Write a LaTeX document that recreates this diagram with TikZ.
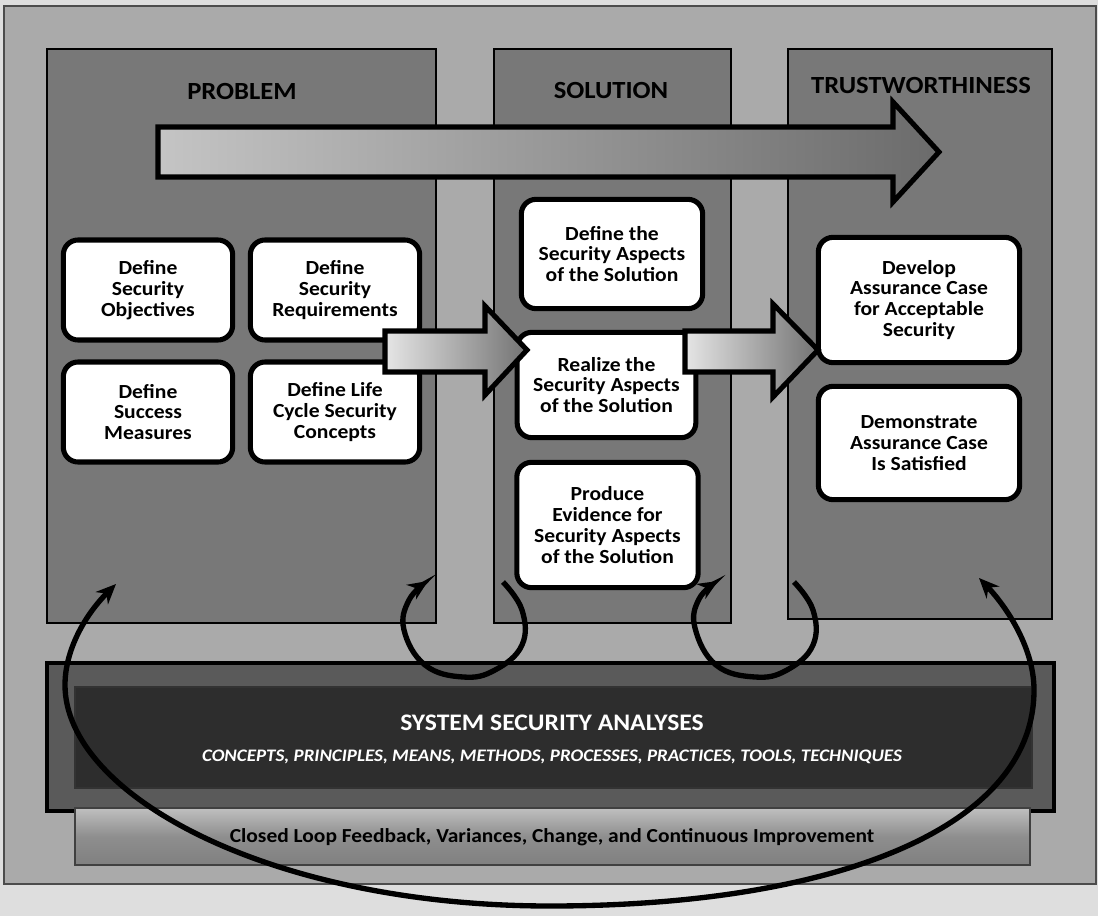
\documentclass[tikz,border=0pt]{standalone}
\usepackage{fontspec}
\setmainfont{Carlito}[FakeStretch=1.08]
\usetikzlibrary{arrows.meta}

\definecolor{pagegray}{HTML}{DEDEDE}
\definecolor{framegray}{HTML}{AAAAAA}
\definecolor{panelgray}{HTML}{787878}
\definecolor{basegray}{HTML}{5A5A5A}
\definecolor{darkbar}{HTML}{2D2D2D}
\definecolor{feedgray}{HTML}{8E8E8E}

\tikzstyle{panel} = [draw=black, line width=2pt, fill=panelgray]
\tikzstyle{heading} = [font=\fontsize{18.5}{21}\selectfont\bfseries]
\tikzstyle{task} = [draw=black, line width=3.8pt, fill=white, rounded corners=11pt, align=center, inner sep=0pt, font=\fontsize{15}{15.7}\selectfont\bfseries]
\tikzstyle{fatarrow} = [draw=black, line width=3.8pt, line join=miter]
\tikzstyle{loopline} = [line width=4pt, -{Stealth[length=15pt,width=13pt]}]

\begin{document}
\begin{tikzpicture}[x=0.75pt, y=-0.75pt]
			\useasboundingbox (0, 0) rectangle (1098, 916);
			\fill[pagegray] (0, 0) rectangle (1098, 916);
			\filldraw[fill=framegray, draw=black!70, line width=0.8pt] (4, 6) rectangle (1096, 884);

			% three columns
			\filldraw[panel] (47, 49) rectangle (436, 623);
			\filldraw[panel] (494, 49) rectangle (731, 623);
			\filldraw[panel] (788, 49) rectangle (1052, 619);
			\node[heading] (problem) at (242, 91) {PROBLEM};
			\node[heading] (solution) at (611, 91) {SOLUTION};
			\node[heading] (trust) at (921, 86) {TRUSTWORTHINESS};

			\shadedraw[fatarrow, left color=black!23, right color=black!58]
				(158, 127) -- (893, 127) -- (893, 102) -- (939, 152) -- (893, 202) -- (893, 177) -- (158, 177) -- cycle;

			% problem
			\node[task, minimum width=127pt, minimum height=75pt] (objectives) at (148, 290) {Define\\Security\\Objectives};
			\node[task, minimum width=127pt, minimum height=75pt] (requirements) at (335, 290) {Define\\Security\\Requirements};
			\node[task, minimum width=127pt, minimum height=75pt] (measures) at (148, 412) {Define\\Success\\Measures};
			\node[task, minimum width=127pt, minimum height=75pt] (concepts) at (335, 412) {Define Life\\Cycle Security\\Concepts};

			% solution
			\node[task, minimum width=136pt, minimum height=82pt] (define) at (612, 254) {Define the\\Security Aspects\\of the Solution};
			\node[task, minimum width=134pt, minimum height=79pt] (realize) at (606.5, 385) {Realize the\\Security Aspects\\of the Solution};
			\node[task, minimum width=136pt, minimum height=94pt] (evidence) at (607.5, 525) {Produce\\Evidence for\\Security Aspects\\of the Solution};

			% trustworthiness
			\node[task, minimum width=151pt, minimum height=94pt] (develop) at (919, 300) {Develop\\Assurance Case\\for Acceptable\\Security};
			\node[task, minimum width=151pt, minimum height=85pt] (demonstrate) at (919, 443) {Demonstrate\\Assurance Case\\Is Satisfied};

			\shadedraw[fatarrow, left color=black!10, right color=black!55]
				(385, 331) -- (485, 331) -- (485, 306) -- (527, 350) -- (485, 395) -- (485, 372) -- (385, 372) -- cycle;
			\shadedraw[fatarrow, left color=black!10, right color=black!55]
				(685, 331) -- (773, 331) -- (773, 304) -- (818, 350) -- (773, 397) -- (773, 372) -- (685, 372) -- cycle;

			% analyses base
			\filldraw[fill=basegray, draw=black, line width=3pt] (47, 663) rectangle (1054, 811);
			\filldraw[fill=darkbar, draw=black!80, line width=0.8pt] (75, 687) rectangle (1032, 788);
			\node[font=\fontsize{17.8}{20}\selectfont\bfseries, text=white] (ssa) at (552, 723) {SYSTEM SECURITY ANALYSES};
			\node[font=\fontsize{13.2}{15}\selectfont\bfseries\itshape, text=white] (means) at (552, 757) {CONCEPTS, PRINCIPLES, MEANS, METHODS, PROCESSES, PRACTICES, TOOLS, TECHNIQUES};
			\shadedraw[top color=black!25, bottom color=black!50, middle color=feedgray, draw=black!75, line width=0.8pt] (75, 808) rectangle (1030, 865);
			\node[font=\fontsize{14.9}{16}\selectfont\bfseries] (feedback) at (552, 837) {Closed Loop Feedback, Variances, Change, and Continuous Improvement};

			% feedback loops
			\draw[loopline] plot[smooth, tension=0.7] coordinates {(503, 582) (522, 610) (522, 645) (495, 670) (463, 677) (425, 665) (404, 630) (409, 600) (428, 581)};
			\draw[loopline] plot[smooth, tension=0.7] coordinates {(794, 582) (813, 610) (813, 645) (787, 670) (755, 677) (716, 665) (695, 628) (699, 599) (718, 581)};
			\draw[loopline, {Stealth[length=15pt,width=13pt]}-{Stealth[length=15pt,width=13pt]}]
				(116, 584) .. controls (85, 615) and (65, 650) .. (65, 685)
				.. controls (65, 795) and (270, 906) .. (550, 906)
				.. controls (830, 906) and (1034, 830) .. (1034, 690)
				.. controls (1034, 645) and (1003, 603) .. (979, 578);
		\end{tikzpicture}
\end{document}
